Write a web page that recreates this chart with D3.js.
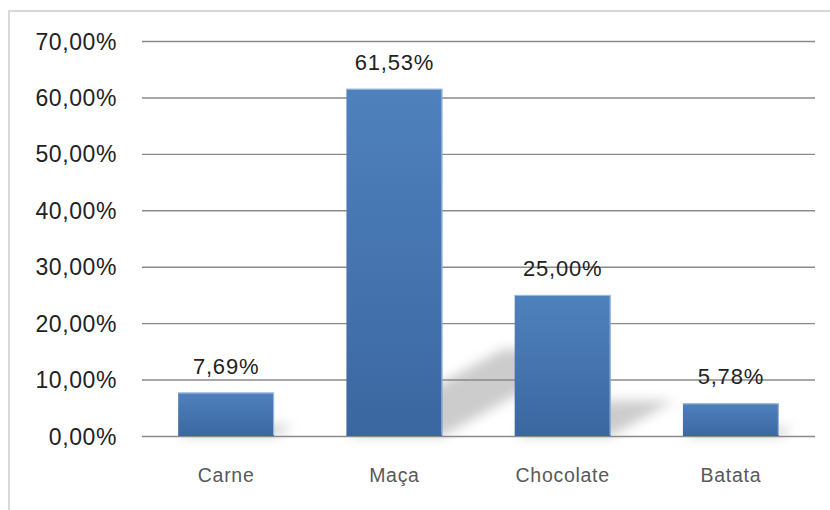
<!DOCTYPE html>
<html>
<head>
<meta charset="utf-8">
<script src="https://cdn.jsdelivr.net/npm/d3@7"></script>
<style>
  html, body { margin: 0; padding: 0; background: #fff; }
  svg { display: block; }
</style>
</head>
<body>
<svg id="chart" width="830" height="510"></svg>
<script>
// Share of answers per food
const categories = ["Carne", "Maça", "Chocolate", "Batata"];
const values = [7.69, 61.53, 25.00, 5.78];
const yTicks = [0, 10, 20, 30, 40, 50, 60, 70];

const fmt = v => d3.format(".2f")(v).replace(".", ",") + "%";

const W = 830, H = 510;
const plot = { left: 142, right: 815, top: 41, bottom: 436 };

const svg = d3.select("#chart");
const defs = svg.append("defs");

const grad = defs.append("linearGradient")
  .attr("id", "barFill").attr("x1", 0).attr("y1", 0).attr("x2", 0).attr("y2", 1);
grad.append("stop").attr("offset", "0%").attr("stop-color", "#4f81bd");
grad.append("stop").attr("offset", "100%").attr("stop-color", "#3b67a0");

const blur = defs.append("filter").attr("id", "soft")
  .attr("x", "-30%").attr("y", "-30%").attr("width", "160%").attr("height", "160%");
blur.append("feGaussianBlur").attr("stdDeviation", 6);

// chart area frame
svg.append("rect")
  .attr("x", 9).attr("y", 11).attr("width", W + 40).attr("height", H + 40)
  .attr("fill", "#fff").attr("stroke", "#d9d9d9").attr("stroke-width", 2);

const x = d3.scaleBand()
  .domain(categories)
  .range([plot.left, plot.right])
  .paddingInner(0.43).paddingOuter(0.215);

const y = d3.scaleLinear().domain([0, 70]).range([plot.bottom, plot.top]);

const data = categories.map((c, i) => ({ c, v: values[i] }));

// cast shadows behind the bars
svg.append("g").attr("filter", "url(#soft)")
  .selectAll("path").data(data).join("path")
  .attr("fill", "#000").attr("fill-opacity", 0.2)
  .attr("d", d => {
    const x0 = x(d.c), x1 = x0 + x.bandwidth();
    const base = y(0), h = y(0) - y(d.v);
    const dx = 0.45 * h, dy = 0.25 * h;
    return `M${x0},${base}L${x1},${base}L${x1 + dx},${base - dy}L${x0 + dx},${base - dy}Z`;
  });

// horizontal gridlines
const yAxis = d3.axisLeft(y).tickValues(yTicks).tickFormat(fmt)
  .tickSize(-(plot.right - plot.left)).tickPadding(25);

const gy = svg.append("g")
  .attr("transform", `translate(${plot.left},0)`)
  .call(yAxis);
gy.select(".domain").remove();
gy.selectAll(".tick line").attr("stroke", "#8a8a8a").attr("stroke-width", 1.4);
gy.selectAll(".tick text")
  .attr("font-family", "'Liberation Sans', Arial, sans-serif")
  .attr("font-size", 23).attr("letter-spacing", 0.6)
  .attr("fill", "#222").attr("dy", "0.35em");

// bars
const bars = svg.append("g");
bars.selectAll("rect").data(data).join("rect")
  .attr("x", d => x(d.c))
  .attr("y", d => y(d.v))
  .attr("width", x.bandwidth())
  .attr("height", d => y(0) - y(d.v))
  .attr("fill", "url(#barFill)");

// light highlight on top and right edges
bars.selectAll("path").data(data).join("path")
  .attr("fill", "none").attr("stroke", "#9dbde3").attr("stroke-width", 1)
  .attr("d", d => {
    const x0 = x(d.c), x1 = x0 + x.bandwidth();
    return `M${x0},${y(d.v) + 0.5}L${x1 - 0.5},${y(d.v) + 0.5}L${x1 - 0.5},${y(0) - 1}`;
  });

// value labels
svg.append("g").selectAll("text").data(data).join("text")
  .attr("x", d => x(d.c) + x.bandwidth() / 2)
  .attr("y", d => y(d.v) - 19)
  .attr("text-anchor", "middle")
  .attr("font-family", "'Liberation Sans', Arial, sans-serif")
  .attr("font-size", 22).attr("letter-spacing", 0.8)
  .attr("fill", "#222")
  .text(d => fmt(d.v));

// category axis
const xAxis = d3.axisBottom(x).tickSize(0).tickPadding(32);
const gx = svg.append("g")
  .attr("transform", `translate(0,${plot.bottom})`)
  .call(xAxis);
gx.select(".domain").remove();
gx.selectAll(".tick text")
  .attr("font-family", "'Liberation Sans', Arial, sans-serif")
  .attr("font-size", 19.5).attr("letter-spacing", 0.7)
  .attr("fill", "#595959");
</script>
</body>
</html>
